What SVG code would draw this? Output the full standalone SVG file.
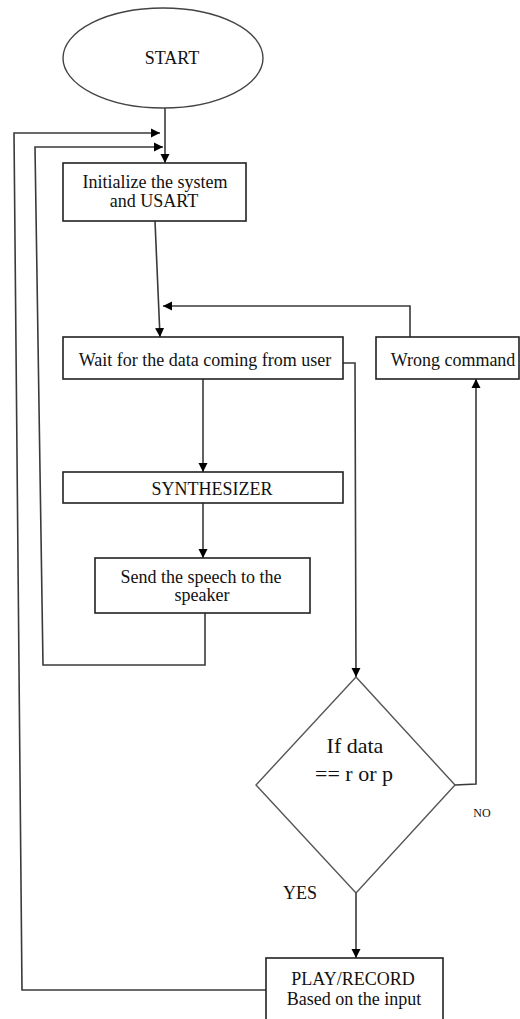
<svg xmlns="http://www.w3.org/2000/svg" width="520" height="1019" viewBox="0 0 520 1019">
<defs>
<marker id="ah" markerWidth="10" markerHeight="10" refX="9" refY="5" orient="auto" markerUnits="userSpaceOnUse">
<path d="M0,0.5 L9,5 L0,9.5 Z" fill="#000"/>
</marker>
<style>
.box{fill:#fff;stroke:#222;stroke-width:1.6}
.ln{fill:none;stroke:#3a3a3a;stroke-width:1.6}
.t{font-family:"Liberation Serif","Times New Roman",serif;font-size:18px;fill:#111;text-anchor:middle}
</style>
</defs>
<rect width="520" height="1019" fill="#fff"/>
<g id="connectors">
<path class="ln" d="M165,108 L165,163" marker-end="url(#ah)"/>
<path class="ln" d="M266,990 L22,990 L14,133 L160,133" marker-end="url(#ah)"/>
<path class="ln" d="M205,613 L205,665 L43,665 L35,147 L163,147" marker-end="url(#ah)"/>
<path class="ln" d="M155,221 L160,337" marker-end="url(#ah)"/>
<path class="ln" d="M410,337 L410,306 L163,306" marker-end="url(#ah)"/>
<path class="ln" d="M203,379 L203,472" marker-end="url(#ah)"/>
<path class="ln" d="M203,503 L203,558" marker-end="url(#ah)"/>
<path class="ln" d="M343,363 L355,363 L356,677" marker-end="url(#ah)"/>
<path class="ln" d="M455,785 L476,784 L476,379" marker-end="url(#ah)"/>
<path class="ln" d="M356,893 L356,958" marker-end="url(#ah)"/>
</g>
<g id="start">
<ellipse cx="163" cy="58" rx="100" ry="50" fill="#fff" stroke="#444" stroke-width="1.4"/>
<text class="t" x="172" y="64">START</text>
</g>
<g id="init">
<rect class="box" x="63" y="163" width="183" height="58"/>
<text class="t" x="155" y="188">Initialize the system</text>
<text class="t" x="154" y="207">and USART</text>
</g>
<g id="wait">
<rect class="box" x="63" y="337" width="280" height="42"/>
<text class="t" x="205" y="366">Wait for the data coming from user</text>
</g>
<g id="wrong">
<rect class="box" x="376" y="337" width="143" height="42"/>
<text class="t" x="453" y="366">Wrong command</text>
</g>
<g id="synth">
<rect class="box" x="63" y="472" width="280" height="31"/>
<text class="t" x="212" y="495">SYNTHESIZER</text>
</g>
<g id="send">
<rect class="box" x="95" y="558" width="215" height="55"/>
<text class="t" x="201" y="583">Send the speech to the</text>
<text class="t" x="202" y="601">speaker</text>
</g>
<g id="decision">
<polygon points="356,677 455,785 356,893 256,785" fill="#fff" stroke="#555" stroke-width="1.4"/>
<text class="t" x="355" y="753" style="font-size:22px">If data</text>
<text class="t" x="354" y="781" style="font-size:22px">== r or p</text>
</g>
<g id="labels">
<text class="t" x="482" y="817" style="font-size:12px">NO</text>
<text class="t" x="300" y="899">YES</text>
</g>
<g id="play">
<rect class="box" x="266" y="958" width="177" height="70"/>
<text class="t" x="353" y="985">PLAY/RECORD</text>
<text class="t" x="354" y="1005">Based on the input</text>
</g>
</svg>
